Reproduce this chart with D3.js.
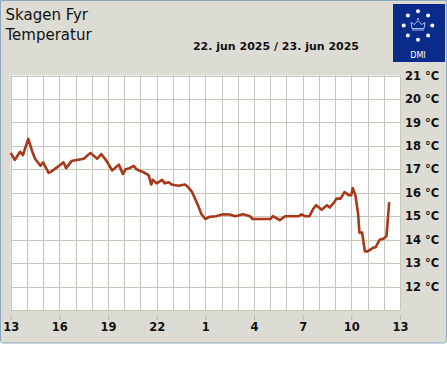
<!DOCTYPE html>
<html lang="da">
<head>
<meta charset="UTF-8">
<title>Skagen Fyr Temperatur</title>
<style>
  body { margin: 0; background: #fff; }
  svg { display: block; font-family: "DejaVu Sans", sans-serif; }
</style>
</head>
<body>
<svg width="447" height="370"></svg>
<script src="https://cdn.jsdelivr.net/npm/d3@7"></script>
<script>
// readings, 22 jun 13:00 -> 23 jun 12:20
const times = [
  "22 13:00", "22 13:15", "22 13:35", "22 13:45", "22 14:05", "22 14:20", "22 14:30", "22 14:40",
  "22 14:50", "22 15:00", "22 15:20", "22 15:30", "22 16:10", "22 16:15", "22 16:25", "22 16:45",
  "22 17:05", "22 17:30", "22 17:55", "22 18:20", "22 18:35", "22 18:55", "22 19:15", "22 19:40",
  "22 19:55", "22 20:05", "22 20:20", "22 20:35", "22 20:45", "22 21:15", "22 21:30", "22 21:40",
  "22 21:45", "22 22:00", "22 22:20", "22 22:30", "22 22:45", "22 22:55", "22 23:20", "22 23:45",
  "22 23:55", "23 00:10", "23 00:20", "23 00:35", "23 00:45", "23 01:00", "23 01:15", "23 01:40",
  "23 02:05", "23 02:30", "23 02:50", "23 03:20", "23 03:45", "23 03:55", "23 05:00", "23 05:10",
  "23 05:35", "23 05:55", "23 06:45", "23 06:55", "23 07:10", "23 07:25", "23 07:40", "23 07:50",
  "23 08:10", "23 08:30", "23 08:40", "23 08:55", "23 09:05", "23 09:20", "23 09:35", "23 09:50",
  "23 10:00", "23 10:05", "23 10:15", "23 10:25", "23 10:30", "23 10:40", "23 10:50", "23 11:00",
  "23 11:20", "23 11:30", "23 11:45", "23 12:00", "23 12:10", "23 12:20"
];
const temps = [
  17.7, 17.4, 17.75, 17.6, 18.3, 17.75, 17.45, 17.3,
  17.15, 17.3, 16.85, 16.9, 17.25, 17.3, 17.05, 17.35,
  17.4, 17.45, 17.7, 17.45, 17.65, 17.35, 16.95, 17.2,
  16.8, 17.0, 17.05, 17.15, 17.0, 16.85, 16.75, 16.35,
  16.55, 16.4, 16.55, 16.4, 16.45, 16.35, 16.3, 16.35,
  16.25, 16.05, 15.8, 15.4, 15.1, 14.88, 14.97, 15.0,
  15.08, 15.07, 15.0, 15.08, 15.0, 14.88, 14.88, 15.0,
  14.83, 15.0, 15.0, 15.08, 15.0, 15.0, 15.33, 15.47,
  15.28, 15.47, 15.37, 15.57, 15.75, 15.75, 16.03, 15.9,
  15.9, 16.2, 15.9, 15.1, 14.3, 14.3, 13.5, 13.5,
  13.65, 13.68, 14.0, 14.05, 14.15, 15.6
];
const yTicks = [12, 13, 14, 15, 16, 17, 18, 19, 20, 21];
const titleLines = ["Skagen Fyr", "Temperatur"];
const dateLabel = "22. jun 2025 / 23. jun 2025";

const parse = d3.timeParse("%Y-%m-%d %H:%M");
const data = times.map((t, i) => ({ t: parse("2025-06-" + t), v: temps[i] }));
const tStart = parse("2025-06-22 13:00"), tEnd = parse("2025-06-23 13:00");

const svg = d3.select("svg");

// panel
svg.append("path")
  .attr("d", "M0.5,0.5 H446.5 V340 Q446.5,343 443.5,343 H3.5 Q0.5,343 0.5,340 Z")
  .attr("fill", "#dcdcd4")
  .attr("stroke", "#8da7bd");

const plotL = 10.7, plotR = 400, plotT = 75.5, plotB = 310;

const x = d3.scaleTime().domain([tStart, tEnd]).range([plotL, plotR]);
const y = d3.scaleLinear().domain([11, 21]).range([plotB, plotT]);

svg.append("rect")
  .attr("x", plotL).attr("y", plotT)
  .attr("width", plotR - plotL).attr("height", plotB - plotT)
  .attr("fill", "#fff");

const hourly = d3.timeHour.range(tStart, d3.timeMinute.offset(tEnd, 1));
const grid = svg.append("g").attr("stroke", "#c6c6ba").attr("stroke-width", 1);
grid.selectAll(".v")
  .data(hourly)
  .join("line")
  .attr("class", "v")
  .attr("x1", d => Math.round(x(d)) + 0.5).attr("x2", d => Math.round(x(d)) + 0.5)
  .attr("y1", plotT).attr("y2", plotB);
grid.selectAll(".h")
  .data(d3.range(11, 22))
  .join("line")
  .attr("class", "h")
  .attr("x1", plotL).attr("x2", plotR)
  .attr("y1", d => Math.round(y(d)) + 0.5).attr("y2", d => Math.round(y(d)) + 0.5);

// x axis, every 3 hours from 13
const xAxis = d3.axisBottom(x)
  .tickValues(hourly.filter((d, i) => i % 3 === 0))
  .tickFormat(d3.timeFormat("%-H"))
  .tickSize(5)
  .tickPadding(3);
const gx = svg.append("g")
  .attr("transform", `translate(0,${plotB + 5})`)
  .call(xAxis);
gx.select(".domain").remove();
gx.selectAll(".tick line").attr("stroke", "#b8b8ac");
gx.selectAll(".tick text")
  .attr("fill", "#111")
  .attr("font-size", 11.5)
  .attr("font-weight", "bold")
  .attr("font-family", "DejaVu Sans");

// y labels
svg.append("g")
  .selectAll("text")
  .data(yTicks)
  .join("text")
  .attr("x", 405)
  .attr("y", d => y(d))
  .attr("dy", "0.36em")
  .attr("font-size", 11.5)
  .attr("font-weight", "bold")
  .attr("fill", "#111")
  .text(d => d + " °C");

// line
svg.append("path")
  .datum(data)
  .attr("fill", "none")
  .attr("stroke", "#a8381a")
  .attr("stroke-width", 2.6)
  .attr("stroke-linejoin", "round")
  .attr("d", d3.line().x(d => x(d.t)).y(d => y(d.v)));

// titles
svg.append("g")
  .selectAll("text")
  .data(titleLines)
  .join("text")
  .attr("x", 5.5)
  .attr("y", (d, i) => 20 + i * 19.5)
  .attr("font-size", 15)
  .attr("fill", "#111")
  .text(d => d);

svg.append("text")
  .attr("x", 276)
  .attr("y", 50)
  .attr("text-anchor", "middle")
  .attr("font-size", 11)
  .attr("font-weight", "bold")
  .attr("fill", "#111")
  .text(dateLabel);

// DMI logo
const logo = svg.append("g").attr("transform", "translate(393,4)");
logo.append("rect").attr("width", 52).attr("height", 58).attr("fill", "#0b2b8a");
const cx = 25, cy = 21.5, r = 14.3;
logo.selectAll("circle")
  .data(d3.range(8))
  .join("circle")
  .attr("cx", i => cx + r * Math.sin(i * Math.PI / 4))
  .attr("cy", i => cy - r * Math.cos(i * Math.PI / 4))
  .attr("r", 2)
  .attr("fill", "#fff");
logo.append("path")
  .attr("d", `M${cx - 6},${cy + 3} L${cx - 7},${cy - 3} L${cx - 3.5},${cy - 1} L${cx},${cy - 5} L${cx + 3.5},${cy - 1} L${cx + 7},${cy - 3} L${cx + 6},${cy + 3} Z M${cx - 6},${cy + 4.5} H${cx + 6}`)
  .attr("fill", "none")
  .attr("stroke", "#a9bde8")
  .attr("stroke-width", 1);
logo.append("circle").attr("cx", cx).attr("cy", cy - 6.5).attr("r", 1).attr("fill", "#a9bde8");
logo.append("text")
  .attr("x", cx).attr("y", 53.5)
  .attr("text-anchor", "middle")
  .attr("font-size", 8)
  .attr("fill", "#fff")
  .text("DMI");
</script>
</body>
</html>
